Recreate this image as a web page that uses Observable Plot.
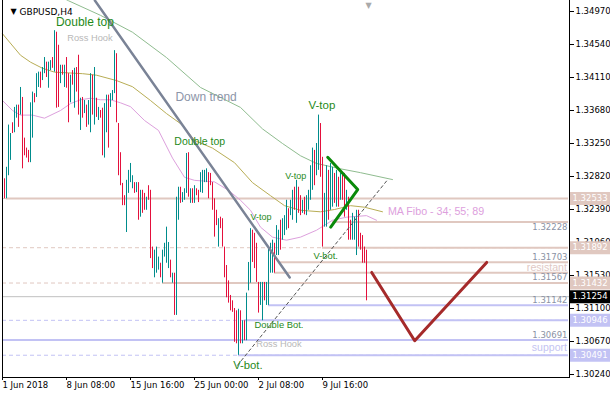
<!DOCTYPE html>
<html><head><meta charset="utf-8">
<script src="https://cdn.jsdelivr.net/npm/d3@7"></script>
<script src="https://cdn.jsdelivr.net/npm/@observablehq/plot@0.6"></script>
<style>body{margin:0;background:#fff;} #chart svg{display:block}</style>
</head><body><div id="chart"></div>
<script>
// ---- H4 bars (index from 1 Jun 2018 00:00), high / low / direction ----
const highs = [1.3299,1.3279,1.3294,1.3349,1.3338,1.3352,1.3372,1.3375,1.3375,1.3398,
1.3385,1.3332,1.3319,1.3316,1.3378,1.3392,1.3390,1.3416,1.3418,1.3418,
1.3424,1.3437,1.3431,1.3431,1.3433,1.3437,1.3472,1.3470,1.3453,1.3427,
1.3427,1.3427,1.3437,1.3416,1.3414,1.3420,1.3423,1.3424,1.3440,1.3384,
1.3385,1.3381,1.3375,1.3381,1.3416,1.3414,1.3424,1.3384,1.3372,1.3368,
1.3371,1.3377,1.3388,1.3388,1.3390,1.3394,1.3446,1.3442,1.3351,1.3313,
1.3273,1.3257,1.3277,1.3290,1.3299,1.3283,1.3274,1.3274,1.3274,1.3264,
1.3264,1.3260,1.3255,1.3270,1.3264,1.3190,1.3186,1.3190,1.3177,1.3169,
1.3186,1.3195,1.3216,1.3196,1.3173,1.3156,1.3156,1.3255,1.3268,1.3268,
1.3261,1.3266,1.3312,1.3313,1.3266,1.3266,1.3270,1.3266,1.3264,1.3287,
1.3290,1.3290,1.3292,1.3287,1.3286,1.3274,1.3253,1.3238,1.3227,1.3229,
1.3227,1.3190,1.3166,1.3146,1.3127,1.3120,1.3110,1.3107,1.3109,1.3107,
1.3094,1.3094,1.3130,1.3170,1.3214,1.3212,1.3208,1.3195,1.3144,1.3144,
1.3144,1.3144,1.3144,1.3190,1.3195,1.3199,1.3195,1.3218,1.3212,1.3225,
1.3227,1.3231,1.3251,1.3240,1.3251,1.3264,1.3268,1.3277,1.3268,1.3257,
1.3251,1.3255,1.3257,1.3264,1.3296,1.3319,1.3316,1.3325,1.3362,1.3351,
1.3307,1.3260,1.3296,1.3290,1.3299,1.3294,1.3286,1.3290,1.3281,1.3286,
1.3287,1.3286,1.3264,1.3255,1.3225,1.3234,1.3229,1.3238,1.3238,1.3208,
1.3205,1.3190,1.3186];
const lows = [1.3281,1.3253,1.3253,1.3283,1.3303,1.3338,1.3339,1.3358,1.3346,1.3362,
1.3292,1.3309,1.3306,1.3300,1.3300,1.3332,1.3378,1.3385,1.3398,1.3397,
1.3407,1.3416,1.3411,1.3397,1.3420,1.3423,1.3418,1.3371,1.3372,1.3403,
1.3414,1.3398,1.3397,1.3352,1.3378,1.3401,1.3371,1.3392,1.3362,1.3342,
1.3358,1.3364,1.3346,1.3349,1.3339,1.3362,1.3349,1.3359,1.3355,1.3358,
1.3309,1.3306,1.3339,1.3319,1.3372,1.3381,1.3390,1.3352,1.3283,1.3270,
1.3244,1.3244,1.3209,1.3260,1.3274,1.3266,1.3260,1.3261,1.3225,1.3229,
1.3234,1.3238,1.3238,1.3251,1.3175,1.3162,1.3150,1.3156,1.3160,1.3150,
1.3143,1.3177,1.3169,1.3162,1.3150,1.3143,1.3101,1.3101,1.3225,1.3247,
1.3248,1.3251,1.3260,1.3255,1.3247,1.3247,1.3247,1.3257,1.3248,1.3261,
1.3260,1.3274,1.3274,1.3253,1.3270,1.3238,1.3203,1.3218,1.3190,1.3214,
1.3190,1.3150,1.3124,1.3117,1.3107,1.3105,1.3066,1.3064,1.3049,1.3064,
1.3064,1.3068,1.3068,1.3133,1.3143,1.3170,1.3162,1.3144,1.3104,1.3114,
1.3094,1.3120,1.3114,1.3114,1.3156,1.3156,1.3156,1.3179,1.3179,1.3186,
1.3199,1.3205,1.3212,1.3214,1.3231,1.3225,1.3238,1.3221,1.3234,1.3231,
1.3234,1.3232,1.3231,1.3238,1.3251,1.3264,1.3270,1.3283,1.3290,1.3281,
1.3190,1.3216,1.3216,1.3225,1.3238,1.3242,1.3247,1.3242,1.3242,1.3251,
1.3251,1.3229,1.3238,1.3199,1.3199,1.3199,1.3199,1.3179,1.3190,1.3186,
1.3169,1.3169,1.3120];
const dirs = "uduuuduudu"+"dddduuduud"+"uuduududdu"+"duddududdu"+"duduududud"+
"duuduuuddd"+"dduuuududu"+"dduddduuud"+"uuuududuud"+"uuudududdu"+
"uuudddddud"+"ddddddddud"+"uduuuddddu"+"uduuuuduud"+"uuuduududd"+
"uduuuuduud"+"duuduududu"+"ddudduuudd"+"ddd";

// ---- moving averages (MA Fibo 34 / 55 / 89), bar index -> price ----
const ma34Idx = [0,5,9,15,21,29,34,39,44,49,54,59,64,71,78,85,91,96,106,113,119,124,129,135,142,149,157,165,172,182,187];
const ma34Val = [1.3381,1.3368,1.3362,1.3362,1.3358,1.3368,1.3377,1.3382,1.3384,1.3382,1.3382,1.3378,1.3373,1.3355,1.3342,1.3306,1.3281,1.3277,1.3275,1.3264,1.3251,1.3238,1.3216,1.3203,1.3199,1.3203,1.3212,1.3225,1.3229,1.3231,1.3225];
const ma55Idx = [0,9,14,20,26,40,47,57,65,74,82,90,96,105,116,125,134,141,149,159,166,174,181,190];
const ma55Val = [1.3468,1.3440,1.3431,1.3423,1.3418,1.3416,1.3414,1.3407,1.3399,1.3381,1.3364,1.3349,1.3329,1.3319,1.3300,1.3274,1.3257,1.3244,1.3238,1.3236,1.3239,1.3244,1.3242,1.3236];
const ma89Idx = [14,33,49,65,82,99,109,119,130,140,149,157,169,179,195];
const ma89Val = [1.3537,1.3511,1.3492,1.3470,1.3437,1.3398,1.3385,1.3372,1.3344,1.3325,1.3309,1.3299,1.3292,1.3287,1.3278];

// ---- drawn objects ----
const downTrendIdx = [46.2, 143.6];
const downTrendVal = [1.35113, 1.31504];
const supportRayIdx = [117.5, 192];
const supportRayVal = [1.30360, 1.32760];
const wedgeIdx = [162.6, 177.6, 164.1];
const wedgeVal = [1.3307, 1.3265, 1.3216];
const projIdx = [184.6, 206.1, 242.1];
const projVal = [1.3157, 1.3068, 1.3170];

// ---- horizontal levels ----
const hPrices = [1.32533, 1.31892, 1.31432, 1.30946, 1.30491];
const hKind   = ["r","r","r","s","s"];
const hFrom   = [2, 160, 80, 121, 118];
const sPrices = [1.32228, 1.31703, 1.31567, 1.31142, 1.30691];
const sKind   = ["r","r","r","s","s"];
const sFrom   = [165, 138, 136, 133, 0];
const sLabelAbove = [false, true, false, true, true];
const bidPrice = 1.31254;

// ---- axes ----
const yTicks = [1.34970,1.34540,1.34110,1.33680,1.33250,1.32820,1.32390,1.31960,1.31530,1.31100,1.30670,1.30240];
const xTickIdx = [0, 32, 64, 96, 128, 160];
const xTickLabels = ["1 Jun 2018","8 Jun 08:00","15 Jun 16:00","25 Jun 00:00","2 Jul 08:00","9 Jul 16:00"];

// ---- annotations ----
const annText  = ["Double top","Ross Hook","Down trend","V-top","Double top","V-top","V-top","V-bot.","Double Bot.","Ross Hook","V-bot.","MA Fibo - 34; 55; 89","resistant","support"];
const annIdx   = [41.2, 43.7, 101.8, 159.7, 98.6, 146.6, 129.2, 161.6, 138.2, 138.2, 122.7, 192.7, 282.2, 282.2];
const annVal   = [1.3483, 1.3462, 1.3386, 1.3375, 1.3328, 1.3282, 1.3229, 1.3179, 1.3088, 1.3064, 1.3036, 1.3236, 1.3163, 1.3059];
const annKind  = ["pat","hook","trend","pat","pat","pat","pat","pat","pat","hook","pat","ma","res","sup"];
const annSize  = [12, 9.3, 12, 11.5, 10.5, 9, 9, 9.4, 9.4, 9.3, 11.3, 10.7, 10.6, 10.5];

const UP = "#008c8c", DOWN = "#e4103c";
const RES = "#e0c8c0", SUP = "#c2c2f4";
const kindColor = {pat:"#1f8a1a", hook:"#b8b8b8", trend:"#8c95a8", ma:"#dda0dd", res:"#e0c8c4", sup:"#c4c4f2"};

const bars = highs.map((h, i) => ({k: i, high: h, low: lows[i], col: dirs[i] === "d" ? DOWN : UP}));
const zipLine = (idx, val) => idx.map((k, i) => ({k, v: val[i]}));
const hLevels = hPrices.map((p, i) => ({price: p, color: hKind[i] === "r" ? RES : SUP, from: hFrom[i]}));
const sLevels = sPrices.map((p, i) => ({price: p, color: sKind[i] === "r" ? RES : SUP, from: sFrom[i], above: sLabelAbove[i]}));
const ann = annText.map((t, i) => ({t, k: annIdx[i], v: annVal[i], kind: annKind[i], size: annSize[i]}));

const XMAX = 283;
const sans = "Liberation Sans, Arial, sans-serif";
const axisFont = "DejaVu Sans, Verdana, sans-serif";
const lvlText = {x: XMAX - 0.5, y: "price", text: d => d.price.toFixed(5), textAnchor: "end", fill: "#8a92a4", fontSize: 8.5, fontFamily: axisFont};

const marks = [
  Plot.ruleY(hLevels, {y: "price", stroke: "color", strokeWidth: 1, strokeDasharray: "4,3"}),
  Plot.ruleY(hLevels, {y: "price", x1: "from", x2: XMAX, stroke: "color", strokeWidth: 2}),
  Plot.ruleY(sLevels, {y: "price", x1: "from", x2: XMAX, stroke: "color", strokeWidth: 2}),
  Plot.ruleY([bidPrice], {stroke: "#c0c0c0", strokeWidth: 1}),
  Plot.line(zipLine(ma89Idx, ma89Val), {x: "k", y: "v", stroke: "#8fbc8f", strokeWidth: 1}),
  Plot.line(zipLine(ma55Idx, ma55Val), {x: "k", y: "v", stroke: "#b8ad55", strokeWidth: 1}),
  Plot.line(zipLine(ma34Idx, ma34Val), {x: "k", y: "v", stroke: "#dda0dd", strokeWidth: 1}),
  // bars: one vertical rule per H4 bar, coloured by direction
  Plot.ruleX(bars, {x: "k", y1: "low", y2: "high", stroke: "col", strokeWidth: 1}),
  Plot.line(zipLine(downTrendIdx, downTrendVal), {x: "k", y: "v", stroke: "#7a8396", strokeWidth: 2.5}),
  Plot.line(zipLine(supportRayIdx, supportRayVal), {x: "k", y: "v", stroke: "#555", strokeWidth: 1, strokeDasharray: "3,3"}),
  Plot.line(zipLine(wedgeIdx, wedgeVal), {x: "k", y: "v", stroke: "#0a8a0a", strokeWidth: 3}),
  Plot.line(zipLine(projIdx, projVal), {x: "k", y: "v", stroke: "#a52a2a", strokeWidth: 3}),
  ...ann.map(d => Plot.text([d], {x: "k", y: "v", text: "t", fill: kindColor[d.kind], fontSize: d.size, fontFamily: sans,
      textAnchor: d.kind === "ma" ? "start" : (d.kind === "res" || d.kind === "sup") ? "end" : "middle"})),
  Plot.text(sLevels.filter(d => d.above), {...lvlText, dy: -5}),
  Plot.text(sLevels.filter(d => !d.above), {...lvlText, dy: 5}),
  Plot.axisX({ticks: xTickIdx, tickFormat: () => "", tickSize: 3, stroke: "#000"}),
  Plot.text(xTickIdx, {x: d => d, text: (d, i) => xTickLabels[i], frameAnchor: "bottom", dy: 10, textAnchor: "start",
      fill: "#000", fontSize: 8.5, fontFamily: axisFont}),
  Plot.axisY({anchor: "right", ticks: yTicks, tickFormat: d => d.toFixed(5), tickSize: 4, tickPadding: 2,
      fontSize: 8.5, fontFamily: axisFont, fill: "#000"}),
  Plot.ruleY(hLevels, {y: "price", x1: XMAX + 1, x2: XMAX + 21, stroke: "color", strokeWidth: 13}),
  Plot.text(hLevels, {y: "price", x: XMAX + 2, text: d => d.price.toFixed(5), textAnchor: "start", fill: "#fff",
      fontSize: 8.5, fontFamily: axisFont}),
  Plot.ruleY([bidPrice], {x1: XMAX + 1, x2: XMAX + 21, stroke: "#000", strokeWidth: 13}),
  Plot.text([bidPrice], {y: d => d, x: XMAX + 2, text: d => d.toFixed(5), textAnchor: "start", fill: "#fff",
      fontSize: 8.5, fontFamily: axisFont}),
  Plot.frame({anchor: "left", stroke: "#000"}),
  Plot.frame({anchor: "bottom", stroke: "#000"}),
  Plot.frame({anchor: "right", stroke: "#000"}),
  Plot.text(["▼"], {frameAnchor: "top-left", dx: 8, dy: 8, fontSize: 8, fill: "#000", fontFamily: axisFont}),
  Plot.text(["GBPUSD,H4"], {frameAnchor: "top-left", dx: 17, dy: 8, textAnchor: "start", fontSize: 9, fill: "#000", fontFamily: axisFont}),
  Plot.text(["▼"], {x: 183, frameAnchor: "top", dy: 2, fontSize: 8, fill: "#aaa", fontFamily: axisFont})
];

const chart = Plot.plot({
  width: 610, height: 400,
  marginLeft: 2, marginRight: 41, marginTop: 0, marginBottom: 23,
  x: {type: "linear", domain: [0, XMAX], range: [2, 568], axis: null},
  y: {type: "linear", domain: [1.30240, 1.34970], range: [374, 11], axis: null},
  color: {type: "identity"},
  style: {fontFamily: axisFont, fontSize: "8.5px", background: "#fff", overflow: "visible"},
  marks
});
document.getElementById("chart").appendChild(chart);
</script>
</body></html>
